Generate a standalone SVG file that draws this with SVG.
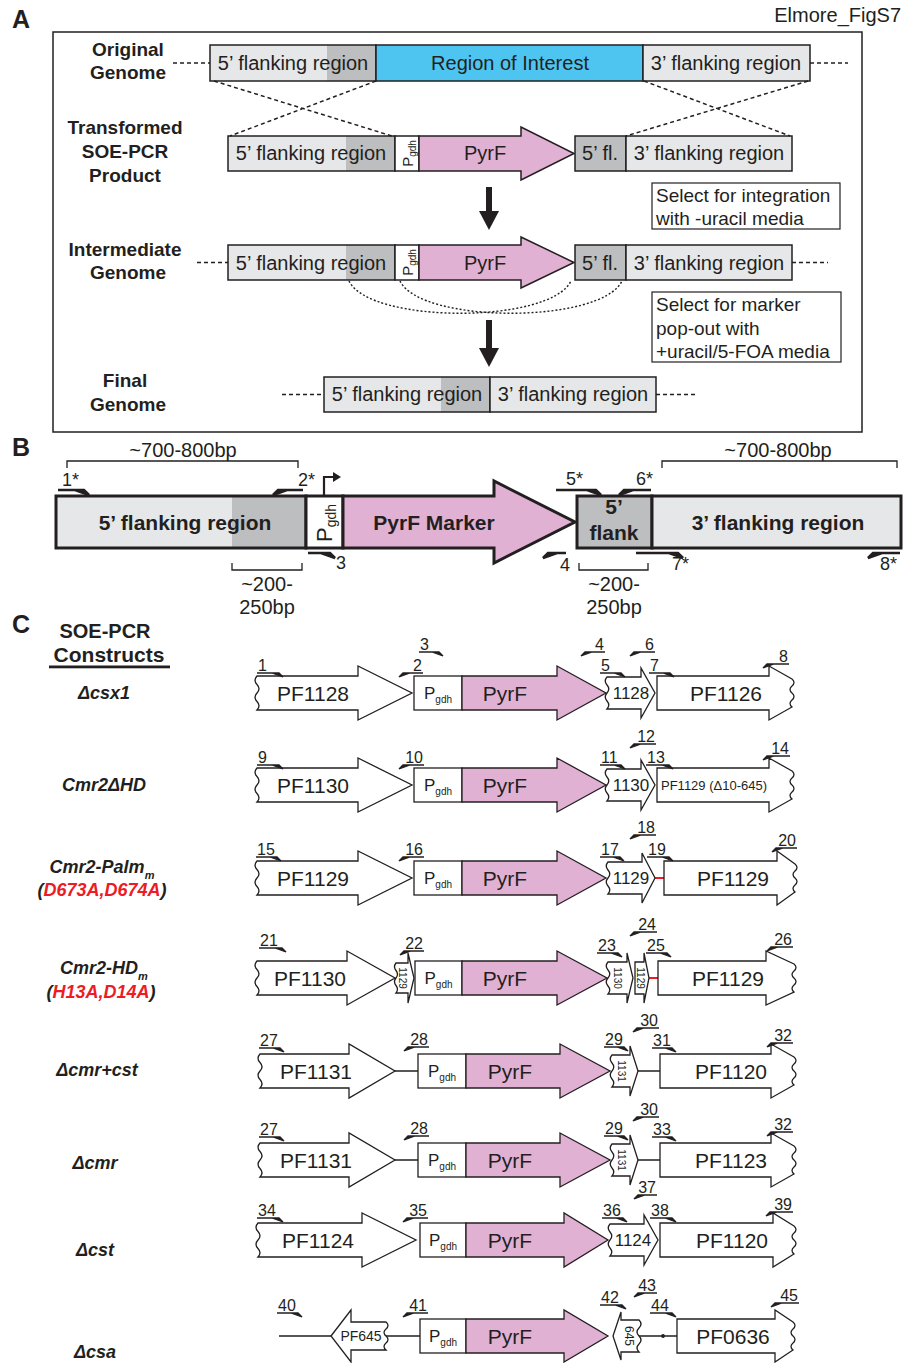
<svg xmlns="http://www.w3.org/2000/svg" width="904" height="1363" viewBox="0 0 904 1363">
<defs>
<style>
.t{font-family:"Liberation Sans",Arial,Helvetica,sans-serif;fill:#231f20}
.b{font-weight:bold}
.bi{font-weight:bold;font-style:italic}
.n{font-family:"Liberation Sans",Arial,Helvetica,sans-serif;fill:#231f20;font-size:16px}
.nb{font-family:"Liberation Sans",Arial,Helvetica,sans-serif;fill:#231f20;font-size:18px}
.lg{fill:#e6e7e8}
.dg{fill:#bcbec0}
.bl{fill:#4ec5f1}
.pk{fill:#e1b1d3}
.ol{fill:none;stroke:#231f20;stroke-width:1.5}
.olB{fill:none;stroke:#231f20;stroke-width:3}
.g{fill:#fff;stroke:#231f20;stroke-width:1.3}
.gp{fill:#e1b1d3;stroke:#231f20;stroke-width:1.3}
.pr{fill:#231f20;stroke:#231f20;stroke-width:1.3}
.prB{fill:#231f20;stroke:#231f20;stroke-width:2.5}
.dash{fill:none;stroke:#231f20;stroke-width:1.5;stroke-dasharray:4 3}
.dot{fill:none;stroke:#231f20;stroke-width:1.4;stroke-dasharray:2 2}
.ln{fill:none;stroke:#231f20;stroke-width:1.3}
.red{fill:none;stroke:#ed1c24;stroke-width:2}
.rd{fill:#ed1c24}
</style>
</defs>
<rect width="904" height="1363" fill="#fff"/>

<!-- Panel letters and title -->
<g id="titles">
<text class="t b" x="12" y="28" font-size="25">A</text>
<text class="t b" x="12" y="456" font-size="25">B</text>
<text class="t b" x="12" y="633" font-size="25">C</text>
<text class="t" x="901" y="22" font-size="20" text-anchor="end">Elmore_FigS7</text>
</g>

<!-- Panel A -->
<rect x="53" y="32" width="809" height="400" class="ol"/>
<g id="A-labels" class="t b" font-size="19" text-anchor="middle">
<text x="128" y="56">Original</text>
<text x="128" y="79">Genome</text>
<text x="125" y="134">Transformed</text>
<text x="125" y="158">SOE-PCR</text>
<text x="125" y="182">Product</text>
<text x="125" y="256">Intermediate</text>
<text x="128" y="279">Genome</text>
<text x="125" y="387">Final</text>
<text x="128" y="411">Genome</text>
</g>

<g id="A-original">
<rect x="210" y="45" width="166" height="36" class="lg"/>
<rect x="327" y="45" width="49" height="36" class="dg"/>
<rect x="210" y="45" width="166" height="36" class="ol"/>
<rect x="376" y="45" width="267" height="36" class="bl"/>
<rect x="376" y="45" width="267" height="36" class="ol"/>
<rect x="643" y="45" width="167" height="36" class="lg"/>
<rect x="643" y="45" width="167" height="36" class="ol"/>
<text class="t" x="293" y="70" font-size="20" text-anchor="middle">5’ flanking region</text>
<text class="t" x="510" y="70" font-size="20" text-anchor="middle">Region of Interest</text>
<text class="t" x="726" y="70" font-size="20" text-anchor="middle">3’ flanking region</text>
</g>

<g id="A-transformed">
<rect x="228" y="136" width="167" height="35" class="lg"/>
<rect x="346" y="136" width="49" height="35" class="dg"/>
<rect x="228" y="136" width="167" height="35" class="ol"/>
<rect x="395" y="136" width="24" height="35" fill="#fff" stroke="#231f20" stroke-width="1.5"/>
<path d="M419,136H521V127L574,153.5L521,180V171H419Z" class="pk" stroke="#231f20" stroke-width="1.5"/>
<rect x="575" y="136" width="51" height="35" class="dg"/>
<rect x="575" y="136" width="51" height="35" class="ol"/>
<rect x="626" y="136" width="166" height="35" class="lg"/>
<rect x="626" y="136" width="166" height="35" class="ol"/>
<text class="t" x="311" y="160" font-size="20" text-anchor="middle">5’ flanking region</text>
<text class="t" transform="translate(412.5,153.5) rotate(-90)" font-size="15" text-anchor="middle">P<tspan font-size="10" dy="3">gdh</tspan></text>
<text class="t" x="485" y="160" font-size="20" text-anchor="middle">PyrF</text>
<text class="t" x="600" y="160" font-size="20" text-anchor="middle">5’ fl.</text>
<text class="t" x="709" y="160" font-size="20" text-anchor="middle">3’ flanking region</text>
</g>

<g id="A-select1">
<rect x="652" y="183" width="188" height="46" fill="#fff" stroke="#231f20" stroke-width="1.2"/>
<text class="t" x="656" y="202" font-size="19">Select for integration</text>
<text class="t" x="656" y="225" font-size="19">with -uracil media</text>
</g>

<g id="A-intermediate">
<rect x="228" y="245" width="167" height="35" class="lg"/>
<rect x="346" y="245" width="49" height="35" class="dg"/>
<rect x="228" y="245" width="167" height="35" class="ol"/>
<rect x="395" y="245" width="24" height="35" fill="#fff" stroke="#231f20" stroke-width="1.5"/>
<path d="M419,245H521V237L574,262.5L521,288V280H419Z" class="pk" stroke="#231f20" stroke-width="1.5"/>
<rect x="575" y="245" width="51" height="35" class="dg"/>
<rect x="575" y="245" width="51" height="35" class="ol"/>
<rect x="626" y="245" width="166" height="35" class="lg"/>
<rect x="626" y="245" width="166" height="35" class="ol"/>
<text class="t" x="311" y="270" font-size="20" text-anchor="middle">5’ flanking region</text>
<text class="t" transform="translate(412.5,262.5) rotate(-90)" font-size="15" text-anchor="middle">P<tspan font-size="10" dy="3">gdh</tspan></text>
<text class="t" x="485" y="270" font-size="20" text-anchor="middle">PyrF</text>
<text class="t" x="600" y="270" font-size="20" text-anchor="middle">5’ fl.</text>
<text class="t" x="709" y="270" font-size="20" text-anchor="middle">3’ flanking region</text>
</g>

<g id="A-select2">
<rect x="652" y="292" width="189" height="70" fill="#fff" stroke="#231f20" stroke-width="1.2"/>
<text class="t" x="656" y="311" font-size="19">Select for marker</text>
<text class="t" x="656" y="335" font-size="19">pop-out with</text>
<text class="t" x="656" y="358" font-size="19">+uracil/5-FOA media</text>
</g>

<g id="A-final">
<rect x="324" y="377" width="166" height="35" class="lg"/>
<rect x="441" y="377" width="49" height="35" class="dg"/>
<rect x="324" y="377" width="166" height="35" class="ol"/>
<rect x="490" y="377" width="166" height="35" class="lg"/>
<rect x="490" y="377" width="166" height="35" class="ol"/>
<text class="t" x="407" y="401" font-size="20" text-anchor="middle">5’ flanking region</text>
<text class="t" x="573" y="401" font-size="20" text-anchor="middle">3’ flanking region</text>
</g>

<g id="A-connectors">
<path class="dash" d="M173 63H210M810 63H848M197 262.5H228M792 262.5H828M282 394.5H324M656 394.5H697"/>
<path class="dash" d="M214 81L392 136M376 81L230 136M644 81L790 136M808 81L626 136"/>
<path class="dot" d="M349 281C370 324 550 324 571 281M400 281C421 324 601 324 622 281"/>
<rect x="486" y="187" width="6" height="26" fill="#231f20"/>
<polygon points="479,211 499,211 489,230" fill="#231f20"/>
<rect x="486" y="320" width="6" height="30" fill="#231f20"/>
<polygon points="479,348 499,348 489,367" fill="#231f20"/>
</g>

<!-- Panel B -->
<g id="B-brackets">
<path class="ln" d="M67 468V461H298V468M662 468V461H897V468M232 563V570H302V563M579 563V570H648V563"/>
<text class="t" x="183" y="457" font-size="20" text-anchor="middle">~700-800bp</text>
<text class="t" x="778" y="457" font-size="20" text-anchor="middle">~700-800bp</text>
<text class="t" x="267" y="591" font-size="20" text-anchor="middle">~200-</text>
<text class="t" x="267" y="614" font-size="20" text-anchor="middle">250bp</text>
<text class="t" x="614" y="591" font-size="20" text-anchor="middle">~200-</text>
<text class="t" x="614" y="614" font-size="20" text-anchor="middle">250bp</text>
</g>
<g id="B-construct">
<rect x="56" y="496" width="250" height="52" class="lg"/>
<rect x="232" y="496" width="74" height="52" class="dg"/>
<rect x="56" y="496" width="250" height="52" class="olB"/>
<rect x="306" y="496" width="37" height="52" fill="#fff" stroke="#231f20" stroke-width="3"/>
<path d="M343,496H494V481L575,522L494,563V548H343Z" class="pk" stroke="#231f20" stroke-width="3"/>
<rect x="577" y="496" width="75" height="52" class="dg"/>
<rect x="577" y="496" width="75" height="52" class="olB"/>
<rect x="652" y="496" width="249" height="52" class="lg"/>
<rect x="652" y="496" width="249" height="52" class="olB"/>
<text class="t b" x="185" y="530" font-size="21" text-anchor="middle">5’ flanking region</text>
<text class="t" transform="translate(332,523) rotate(-90)" font-size="22" text-anchor="middle">P<tspan font-size="14" dy="4">gdh</tspan></text>
<text class="t b" x="434" y="530" font-size="21" text-anchor="middle">PyrF Marker</text>
<text class="t b" x="614" y="514" font-size="21" text-anchor="middle">5’</text>
<text class="t b" x="614" y="540" font-size="21" text-anchor="middle">flank</text>
<text class="t b" x="778" y="530" font-size="21" text-anchor="middle">3’ flanking region</text>
</g>
<g id="B-primers">
<path class="prB" d="M58 490H84M75 490L84 490L89 495Z"/><text class="nb" x="62" y="486">1*</text>
<path class="prB" d="M303 490H278M287 490L278 490L273 495Z"/><text class="nb" x="298" y="486">2*</text>
<path d="M324 496V477H334" fill="none" stroke="#231f20" stroke-width="2.2"/>
<polygon points="333,472 341,477 333,482" fill="#231f20"/>
<path class="prB" d="M308 553H330M321 553L330 553L335 558Z"/><text class="nb" x="336" y="569">3</text>
<path class="prB" d="M566 553H548M557 553L548 553L543 558Z"/><text class="nb" x="560" y="571">4</text>
<path class="prB" d="M556 490H596M587 490L596 490L601 495Z"/><text class="nb" x="566" y="485">5*</text>
<path class="prB" d="M651 490H624M633 490L624 490L619 495Z"/><text class="nb" x="636" y="485">6*</text>
<path class="prB" d="M636 553H678M669 553L678 553L683 558Z"/><text class="nb" x="672" y="570">7*</text>
<path class="prB" d="M900 553H873M882 553L873 553L868 558Z"/><text class="nb" x="880" y="570">8*</text>
</g>

<!-- Panel C -->
<g id="C-header">
<text class="t b" x="105" y="638" font-size="20" text-anchor="middle">SOE-PCR</text>
<text class="t b" x="109" y="662" font-size="21" text-anchor="middle">Constructs</text>
<rect x="49" y="665.5" width="121" height="2.8" fill="#231f20"/>
</g>

<g id="C-labels" class="t bi" font-size="18" text-anchor="middle">
<text x="104" y="699">Δcsx1</text>
<text x="104" y="791">Cmr2ΔHD</text>
<text x="102" y="873">Cmr2-Palm<tspan font-size="11" dy="6">m</tspan></text>
<text x="102" y="896">(<tspan class="rd">D673A,D674A</tspan>)</text>
<text x="104" y="974">Cmr2-HD<tspan font-size="11" dy="6">m</tspan></text>
<text x="101" y="998">(<tspan class="rd">H13A,D14A</tspan>)</text>
<text x="97" y="1076">Δcmr+cst</text>
<text x="95" y="1169">Δcmr</text>
<text x="95" y="1256">Δcst</text>
<text x="95" y="1358">Δcsa</text>
</g>

<g id="C-connectors">
<path class="red" d="M655 878H664M649 978H658"/>
<path class="ln" d="M395 1071H418M638 1071H660M395 1160H418M638 1160H660M279 1336H331M386 1336H420M639 1336H677"/>
<circle cx="663" cy="1336" r="1.9" fill="#231f20"/>
</g>

<g id="C-row1-csx1">
<path class="g" d="M257,676H358V666L412,693L358,720V710H257q4,-4.25 0,-8.5q-4,-4.25 0,-8.5q4,-4.25 0,-8.5q-4,-4.25 0,-8.5Z"/>
<rect class="g" x="414" y="676" width="48" height="34"/>
<path class="gp" d="M462,676H557V666L606,693L557,720V710H462Z"/>
<path class="g" d="M607,677H641V668L655,693L641,718V709H607q3.5,-4 0,-8q-3.5,-4 0,-8q3.5,-4 0,-8q-3.5,-4 0,-8Z"/>
<path class="g" d="M657,676H769V666L792,679q4,3.5 0,7q-4,3.5 0,7q4,3.5 0,7q-4,3.5 0,7L769,720V710H657Z"/>
<text class="t" x="313" y="701" font-size="21" text-anchor="middle">PF1128</text>
<text class="t" x="438" y="699" font-size="17" text-anchor="middle">P<tspan font-size="10" dy="4">gdh</tspan></text>
<text class="t" x="505" y="701" font-size="21" text-anchor="middle">PyrF</text>
<text class="t" x="631" y="699" font-size="17" text-anchor="middle">1128</text>
<text class="t" x="726" y="701" font-size="21" text-anchor="middle">PF1126</text>
<path class="pr" d="M257 673H279M272 673L279 673L283 677Z"/><text class="n" x="258" y="671">1</text>
<path class="pr" d="M423 673H403M410 673L403 673L399 677Z"/><text class="n" x="422" y="671" text-anchor="end">2</text>
<path class="pr" d="M419 652H439M432 652L439 652L443 656Z"/><text class="n" x="420" y="650">3</text>
<path class="pr" d="M605 652H585M592 652L585 652L581 656Z"/><text class="n" x="604" y="650" text-anchor="end">4</text>
<path class="pr" d="M600 673H621M614 673L621 673L625 677Z"/><text class="n" x="601" y="671">5</text>
<path class="pr" d="M655 652H634M641 652L634 652L630 656Z"/><text class="n" x="654" y="650" text-anchor="end">6</text>
<path class="pr" d="M649 673H670M663 673L670 673L674 677Z"/><text class="n" x="650" y="671">7</text>
<path class="pr" d="M789 664H767M774 664L767 664L763 668Z"/><text class="n" x="788" y="662" text-anchor="end">8</text>
</g>

<g id="C-row2-cmr2dHD">
<path class="g" d="M257,768H358V758L412,785L358,812V802H257q4,-4.25 0,-8.5q-4,-4.25 0,-8.5q4,-4.25 0,-8.5q-4,-4.25 0,-8.5Z"/>
<rect class="g" x="414" y="768" width="48" height="34"/>
<path class="gp" d="M462,768H557V758L606,785L557,812V802H462Z"/>
<path class="g" d="M607,769H641V760L655,785L641,810V801H607q3.5,-4 0,-8q-3.5,-4 0,-8q3.5,-4 0,-8q-3.5,-4 0,-8Z"/>
<path class="g" d="M657,768H769V758L792,771q4,3.5 0,7q-4,3.5 0,7q4,3.5 0,7q-4,3.5 0,7L769,812V802H657Z"/>
<text class="t" x="313" y="793" font-size="21" text-anchor="middle">PF1130</text>
<text class="t" x="438" y="791" font-size="17" text-anchor="middle">P<tspan font-size="10" dy="4">gdh</tspan></text>
<text class="t" x="505" y="793" font-size="21" text-anchor="middle">PyrF</text>
<text class="t" x="631" y="791" font-size="17" text-anchor="middle">1130</text>
<text class="t" x="714" y="790" font-size="13" text-anchor="middle">PF1129 (Δ10-645)</text>
<path class="pr" d="M257 765H279M272 765L279 765L283 769Z"/><text class="n" x="258" y="763">9</text>
<path class="pr" d="M424 765H403M410 765L403 765L399 769Z"/><text class="n" x="423" y="763" text-anchor="end">10</text>
<path class="pr" d="M600 765H621M614 765L621 765L625 769Z"/><text class="n" x="601" y="763">11</text>
<path class="pr" d="M656 744H634M641 744L634 744L630 748Z"/><text class="n" x="655" y="742" text-anchor="end">12</text>
<path class="pr" d="M646 765H669M662 765L669 765L673 769Z"/><text class="n" x="647" y="763">13</text>
<path class="pr" d="M790 756H767M774 756L767 756L763 760Z"/><text class="n" x="789" y="754" text-anchor="end">14</text>
</g>

<g id="C-row3-palm">
<path class="g" d="M257,861H358V851L412,878L358,905V895H257q4,-4.25 0,-8.5q-4,-4.25 0,-8.5q4,-4.25 0,-8.5q-4,-4.25 0,-8.5Z"/>
<rect class="g" x="414" y="861" width="48" height="34"/>
<path class="gp" d="M462,861H557V851L606,878L557,905V895H462Z"/>
<path class="g" d="M608,862H642V853L655,878L642,903V894H608q3.5,-4 0,-8q-3.5,-4 0,-8q3.5,-4 0,-8q-3.5,-4 0,-8Z"/>
<path class="g" d="M664,861H777V851L795,864q4,3.5 0,7q-4,3.5 0,7q4,3.5 0,7q-4,3.5 0,7L777,905V895H664Z"/>
<text class="t" x="313" y="886" font-size="21" text-anchor="middle">PF1129</text>
<text class="t" x="438" y="884" font-size="17" text-anchor="middle">P<tspan font-size="10" dy="4">gdh</tspan></text>
<text class="t" x="505" y="886" font-size="21" text-anchor="middle">PyrF</text>
<text class="t" x="631" y="884" font-size="17" text-anchor="middle">1129</text>
<text class="t" x="733" y="886" font-size="21" text-anchor="middle">PF1129</text>
<path class="pr" d="M256 857H277M270 857L277 857L281 861Z"/><text class="n" x="257" y="855">15</text>
<path class="pr" d="M424 857H403M410 857L403 857L399 861Z"/><text class="n" x="423" y="855" text-anchor="end">16</text>
<path class="pr" d="M600 857H620M613 857L620 857L624 861Z"/><text class="n" x="601" y="855">17</text>
<path class="pr" d="M656 835H634M641 835L634 835L630 839Z"/><text class="n" x="655" y="833" text-anchor="end">18</text>
<path class="pr" d="M647 857H669M662 857L669 857L673 861Z"/><text class="n" x="648" y="855">19</text>
<path class="pr" d="M797 848H776M783 848L776 848L772 852Z"/><text class="n" x="796" y="846" text-anchor="end">20</text>
</g>

<g id="C-row4-hd">
<path class="g" d="M257,961H347V951L395,978L347,1005V995H257q4,-4.25 0,-8.5q-4,-4.25 0,-8.5q4,-4.25 0,-8.5q-4,-4.25 0,-8.5Z"/>
<path class="g" d="M396,963H408V953L414,978L408,1003V993H396q3,-3.75 0,-7.5q-3,-3.75 0,-7.5q3,-3.75 0,-7.5q-3,-3.75 0,-7.5Z"/>
<rect class="g" x="415" y="961" width="47" height="34"/>
<path class="gp" d="M462,961H557V951L607,978L557,1005V995H462Z"/>
<path class="g" d="M608,962H627V953L633,978L627,1003V994H608q3.5,-4 0,-8q-3.5,-4 0,-8q3.5,-4 0,-8q-3.5,-4 0,-8Z"/>
<path class="g" d="M635,962H644V953L649,978L644,1003V994H635Z"/>
<path class="g" d="M658,961H766V951L794,964q4,3.5 0,7q-4,3.5 0,7q4,3.5 0,7q-4,3.5 0,7L766,1005V995H658Z"/>
<text class="t" x="310" y="986" font-size="21" text-anchor="middle">PF1130</text>
<text class="t" transform="translate(398.5,978) rotate(90)" font-size="10" text-anchor="middle">1129</text>
<text class="t" x="438.5" y="984" font-size="17" text-anchor="middle">P<tspan font-size="10" dy="4">gdh</tspan></text>
<text class="t" x="505" y="986" font-size="21" text-anchor="middle">PyrF</text>
<text class="t" transform="translate(613.5,978) rotate(90)" font-size="10" text-anchor="middle">1130</text>
<text class="t" transform="translate(636.5,978) rotate(90)" font-size="10" text-anchor="middle">1129</text>
<text class="t" x="728" y="986" font-size="21" text-anchor="middle">PF1129</text>
<path class="pr" d="M259 948H282M275 948L282 948L286 952Z"/><text class="n" x="260" y="946">21</text>
<path class="pr" d="M424 951H404M411 951L404 951L400 955Z"/><text class="n" x="423" y="949" text-anchor="end">22</text>
<path class="pr" d="M597 953H618M611 953L618 953L622 957Z"/><text class="n" x="598" y="951">23</text>
<path class="pr" d="M657 932H634M641 932L634 932L630 936Z"/><text class="n" x="656" y="930" text-anchor="end">24</text>
<path class="pr" d="M646 953H667M660 953L667 953L671 957Z"/><text class="n" x="647" y="951">25</text>
<path class="pr" d="M793 947H771M778 947L771 947L767 951Z"/><text class="n" x="792" y="945" text-anchor="end">26</text>
</g>

<g id="C-row5-cmrcst">
<path class="g" d="M260,1054H349V1044L395,1071L349,1098V1088H260q4,-4.25 0,-8.5q-4,-4.25 0,-8.5q4,-4.25 0,-8.5q-4,-4.25 0,-8.5Z"/>
<rect class="g" x="418" y="1054" width="48" height="34"/>
<path class="gp" d="M466,1054H560V1044L610,1071L560,1098V1088H466Z"/>
<path class="g" d="M612,1055H630V1046L638,1071L630,1096V1087H612q3.5,-4 0,-8q-3.5,-4 0,-8q3.5,-4 0,-8q-3.5,-4 0,-8Z"/>
<path class="g" d="M660,1054H771V1044L794,1057q4,3.5 0,7q-4,3.5 0,7q4,3.5 0,7q-4,3.5 0,7L771,1098V1088H660Z"/>
<text class="t" x="316" y="1079" font-size="21" text-anchor="middle">PF1131</text>
<text class="t" x="442" y="1077" font-size="17" text-anchor="middle">P<tspan font-size="10" dy="4">gdh</tspan></text>
<text class="t" x="510" y="1079" font-size="21" text-anchor="middle">PyrF</text>
<text class="t" transform="translate(617.5,1071) rotate(90)" font-size="10" text-anchor="middle">1131</text>
<text class="t" x="731" y="1079" font-size="21" text-anchor="middle">PF1120</text>
<path class="pr" d="M259 1048H280M273 1048L280 1048L284 1052Z"/><text class="n" x="260" y="1046">27</text>
<path class="pr" d="M429 1047H408M415 1047L408 1047L404 1051Z"/><text class="n" x="428" y="1045" text-anchor="end">28</text>
<path class="pr" d="M604 1047H624M617 1047L624 1047L628 1051Z"/><text class="n" x="605" y="1045">29</text>
<path class="pr" d="M659 1028H637M644 1028L637 1028L633 1032Z"/><text class="n" x="658" y="1026" text-anchor="end">30</text>
<path class="pr" d="M652 1048H672M665 1048L672 1048L676 1052Z"/><text class="n" x="653" y="1046">31</text>
<path class="pr" d="M793 1043H771M778 1043L771 1043L767 1047Z"/><text class="n" x="792" y="1041" text-anchor="end">32</text>
</g>

<g id="C-row6-cmr">
<path class="g" d="M260,1143H349V1133L395,1160L349,1187V1177H260q4,-4.25 0,-8.5q-4,-4.25 0,-8.5q4,-4.25 0,-8.5q-4,-4.25 0,-8.5Z"/>
<rect class="g" x="418" y="1143" width="48" height="34"/>
<path class="gp" d="M466,1143H560V1133L610,1160L560,1187V1177H466Z"/>
<path class="g" d="M612,1144H630V1135L638,1160L630,1185V1176H612q3.5,-4 0,-8q-3.5,-4 0,-8q3.5,-4 0,-8q-3.5,-4 0,-8Z"/>
<path class="g" d="M660,1143H771V1133L794,1146q4,3.5 0,7q-4,3.5 0,7q4,3.5 0,7q-4,3.5 0,7L771,1187V1177H660Z"/>
<text class="t" x="316" y="1168" font-size="21" text-anchor="middle">PF1131</text>
<text class="t" x="442" y="1166" font-size="17" text-anchor="middle">P<tspan font-size="10" dy="4">gdh</tspan></text>
<text class="t" x="510" y="1168" font-size="21" text-anchor="middle">PyrF</text>
<text class="t" transform="translate(617.5,1160) rotate(90)" font-size="10" text-anchor="middle">1131</text>
<text class="t" x="731" y="1168" font-size="21" text-anchor="middle">PF1123</text>
<path class="pr" d="M259 1137H280M273 1137L280 1137L284 1141Z"/><text class="n" x="260" y="1135">27</text>
<path class="pr" d="M429 1136H408M415 1136L408 1136L404 1140Z"/><text class="n" x="428" y="1134" text-anchor="end">28</text>
<path class="pr" d="M604 1136H624M617 1136L624 1136L628 1140Z"/><text class="n" x="605" y="1134">29</text>
<path class="pr" d="M659 1117H637M644 1117L637 1117L633 1121Z"/><text class="n" x="658" y="1115" text-anchor="end">30</text>
<path class="pr" d="M652 1137H672M665 1137L672 1137L676 1141Z"/><text class="n" x="653" y="1135">33</text>
<path class="pr" d="M793 1132H771M778 1132L771 1132L767 1136Z"/><text class="n" x="792" y="1130" text-anchor="end">32</text>
</g>

<g id="C-row7-cst">
<path class="g" d="M258,1223H362V1213L416,1240L362,1267V1257H258q4,-4.25 0,-8.5q-4,-4.25 0,-8.5q4,-4.25 0,-8.5q-4,-4.25 0,-8.5Z"/>
<rect class="g" x="420" y="1223" width="46" height="34"/>
<path class="gp" d="M466,1223H564V1213L608,1240L564,1267V1257H466Z"/>
<path class="g" d="M610,1224H644V1215L658,1240L644,1265V1256H610q3.5,-4 0,-8q-3.5,-4 0,-8q3.5,-4 0,-8q-3.5,-4 0,-8Z"/>
<path class="g" d="M660,1223H773V1213L794,1226q4,3.5 0,7q-4,3.5 0,7q4,3.5 0,7q-4,3.5 0,7L773,1267V1257H660Z"/>
<text class="t" x="318" y="1248" font-size="21" text-anchor="middle">PF1124</text>
<text class="t" x="443" y="1246" font-size="17" text-anchor="middle">P<tspan font-size="10" dy="4">gdh</tspan></text>
<text class="t" x="510" y="1248" font-size="21" text-anchor="middle">PyrF</text>
<text class="t" x="633" y="1246" font-size="17" text-anchor="middle">1124</text>
<text class="t" x="732" y="1248" font-size="21" text-anchor="middle">PF1120</text>
<path class="pr" d="M257 1218H279M272 1218L279 1218L283 1222Z"/><text class="n" x="258" y="1216">34</text>
<path class="pr" d="M428 1218H407M414 1218L407 1218L403 1222Z"/><text class="n" x="427" y="1216" text-anchor="end">35</text>
<path class="pr" d="M602 1218H623M616 1218L623 1218L627 1222Z"/><text class="n" x="603" y="1216">36</text>
<path class="pr" d="M657 1195H638M645 1195L638 1195L634 1199Z"/><text class="n" x="656" y="1193" text-anchor="end">37</text>
<path class="pr" d="M650 1218H672M665 1218L672 1218L676 1222Z"/><text class="n" x="651" y="1216">38</text>
<path class="pr" d="M793 1212H770M777 1212L770 1212L766 1216Z"/><text class="n" x="792" y="1210" text-anchor="end">39</text>
</g>

<g id="C-row8-csa">
<path class="g" d="M331,1336L351,1310V1322H386q4,3.5 0,7q-4,3.5 0,7q4,3.5 0,7q-4,3.5 0,7H351V1362Z"/>
<rect class="g" x="420" y="1319" width="46" height="34"/>
<path class="gp" d="M466,1319H564V1310L608,1336L564,1362V1353H466Z"/>
<path class="g" d="M613,1336L621,1312V1320H639q4,4 0,8q-4,4 0,8q4,4 0,8q-4,4 0,8H621V1360Z"/>
<path class="g" d="M677,1319H775V1310L793,1322q4,3.5 0,7q-4,3.5 0,7q4,3.5 0,7q-4,3.5 0,7L775,1362V1353H677Z"/>
<text class="t" x="361" y="1341" font-size="14" text-anchor="middle" fill="#414042">PF645</text>
<text class="t" x="443" y="1342" font-size="17" text-anchor="middle">P<tspan font-size="10" dy="4">gdh</tspan></text>
<text class="t" x="510" y="1344" font-size="21" text-anchor="middle">PyrF</text>
<text class="t" transform="translate(625,1336) rotate(90)" font-size="12" text-anchor="middle">645</text>
<text class="t" x="733" y="1344" font-size="21" text-anchor="middle">PF0636</text>
<path class="pr" d="M277 1313H298M291 1313L298 1313L302 1317Z"/><text class="n" x="278" y="1311">40</text>
<path class="pr" d="M428 1313H407M414 1313L407 1313L403 1317Z"/><text class="n" x="427" y="1311" text-anchor="end">41</text>
<path class="pr" d="M600 1305H622M615 1305L622 1305L626 1309Z"/><text class="n" x="601" y="1303">42</text>
<path class="pr" d="M657 1293H638M645 1293L638 1293L634 1297Z"/><text class="n" x="656" y="1291" text-anchor="end">43</text>
<path class="pr" d="M650 1313H672M665 1313L672 1313L676 1317Z"/><text class="n" x="651" y="1311">44</text>
<path class="pr" d="M799 1303H775M782 1303L775 1303L771 1307Z"/><text class="n" x="798" y="1301" text-anchor="end">45</text>
</g>
</svg>
